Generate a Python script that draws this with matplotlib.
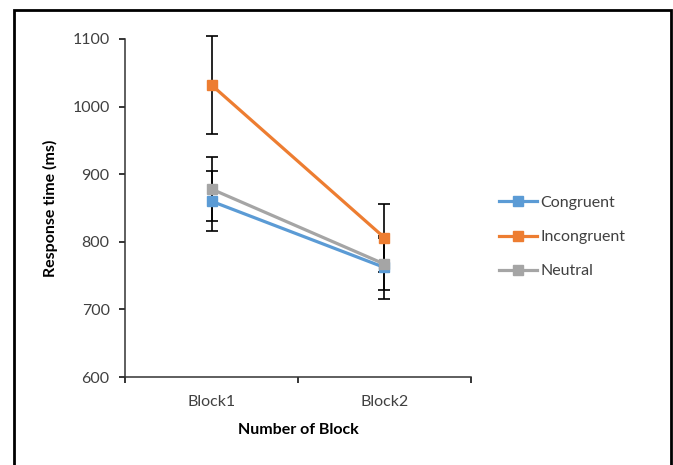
import matplotlib
matplotlib.use("Agg")
import matplotlib.pyplot as plt
from matplotlib.patches import Rectangle

# Data
blocks = ["Block1", "Block2"]
conditions = ["Congruent", "Incongruent", "Neutral"]
congruent = [860, 762]
incongruent = [1032, 806]
neutral = [878, 767]
congruent_err = [44, 47]
incongruent_err = [73, 50]
neutral_err = [47, 39]
yticks = [600, 700, 800, 900, 1000, 1100]

colors = {"Congruent": "#5B9BD5", "Incongruent": "#ED7D31", "Neutral": "#A5A5A5"}
plt.rcParams["font.family"] = ["Lato", "DejaVu Sans"]

fig = plt.figure(figsize=(6.73, 4.65), dpi=100)
ax = fig.add_axes([125 / 673, 1 - 377 / 465, 346 / 673, 338 / 465])

x = [1, 2]
series = [
    ("Congruent", congruent, congruent_err),
    ("Incongruent", incongruent, incongruent_err),
    ("Neutral", neutral, neutral_err),
]
for name, vals, err in series:
    eb = ax.errorbar(x, vals, yerr=err, fmt="none", ecolor="black",
                     elinewidth=1.2, capsize=4.5, capthick=1.2, zorder=2)
    for art in eb.lines[1] + eb.lines[2]:
        art.set_clip_on(False)
for name, vals, err in series:
    ax.plot(x, vals, color=colors[name], linewidth=2.3, marker="s",
            markersize=7.5, label=name, zorder=3, clip_on=False)

ax.set_xlim(0.5, 2.5)
ax.set_ylim(600, 1100)
ax.set_yticks(yticks)
ax.set_xticks(x)
ax.set_xticklabels(blocks)
ax.set_xticks([0.5, 1.5, 2.5], minor=True)
ax.tick_params(axis="x", which="major", length=0, labelsize=11.5, pad=13, colors="#404040")
ax.tick_params(axis="x", which="minor", length=4, width=1.1, direction="out")
ax.tick_params(axis="y", length=4, width=1.1, direction="out", labelsize=11.5,
               pad=7, labelcolor="#404040")

for side in ["top", "right"]:
    ax.spines[side].set_visible(False)
for side in ["left", "bottom"]:
    ax.spines[side].set_linewidth(1.1)
    ax.spines[side].set_color("#333333")

ax.set_xlabel("Number of Block", fontsize=11.5, fontweight="bold", labelpad=10)
ax.set_ylabel("Response time (ms)", fontsize=11.5, fontweight="bold", labelpad=10)

ax.legend(loc="center left", bbox_to_anchor=(1.08, 0.414), frameon=False,
          fontsize=11.5, handlelength=2.4, handletextpad=0.2, labelspacing=1.25,
          borderpad=0, borderaxespad=0, labelcolor="#404040")

# outer frame around the figure (bottom edge is cut off in the reference)
fig.patches.append(Rectangle((14 / 673, -0.05), (671 - 14) / 673, 1.05 - 10 / 465,
                             transform=fig.transFigure, fill=False,
                             edgecolor="black", linewidth=2.0))

fig.savefig("out.png", dpi=100)
